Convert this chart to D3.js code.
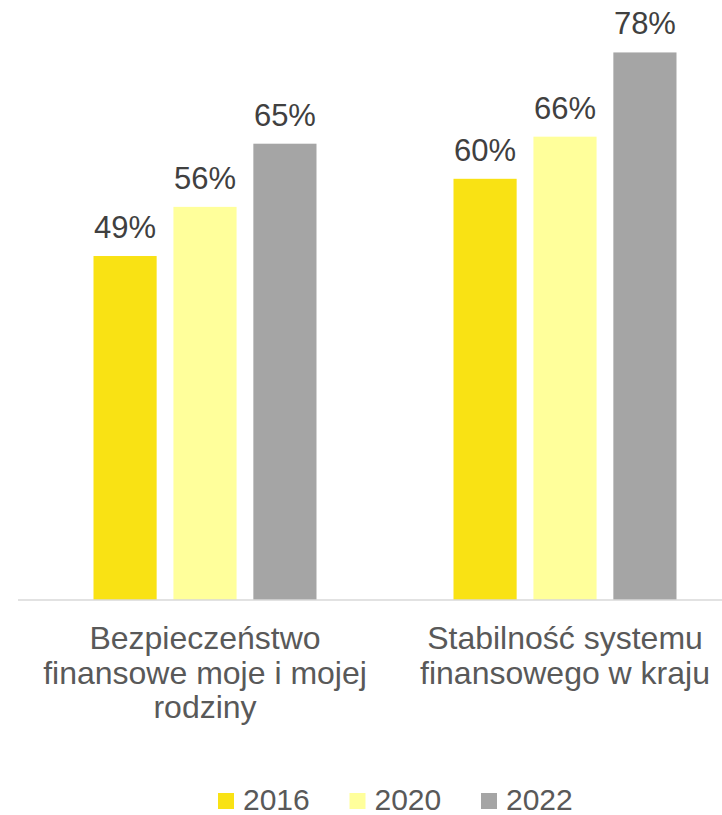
<!DOCTYPE html>
<html>
<head>
<meta charset="utf-8">
<script src="https://cdn.jsdelivr.net/npm/d3@7"></script>
<style>
  body { margin: 0; background: #fff; }
  svg { display: block; font-family: Arial, "Liberation Sans", sans-serif; }
</style>
</head>
<body>
<div class="chart"></div>
<script>
// data
const categories = ['Bezpieczeństwo finansowe moje i mojej rodziny', 'Stabilność systemu finansowego w kraju'];
const years = ['2016', '2020', '2022'];
const values2016 = [49, 60];
const values2020 = [56, 66];
const values2022 = [65, 78];
const colors = ['#F9E214', '#FFFF9B', '#A5A5A5'];

const series = [values2016, values2020, values2022];

const width = 722;
const height = 815;
const baseY = 600;

const svg = d3.select('.chart')
	.append('svg')
	.attr('width', width)
	.attr('height', height);

// scales
const x0 = d3.scaleBand()
	.domain(categories)
	.range([25, 745]);

const x1 = d3.scaleBand()
	.domain(years)
	.range([-111.5, 111.5])
	.paddingInner(0.21);

const y = d3.scaleLinear()
	.domain([0, 100])
	.range([baseY, baseY - 702]);

// bars
const groups = svg.selectAll('g.group')
	.data(categories)
	.enter()
	.append('g')
	.attr('class', 'group')
	.attr('transform', d => `translate(${x0(d) + x0.bandwidth() / 2},0)`);

groups.selectAll('rect')
	.data((d, ci) => years.map((yr, si) => ({year: yr, value: series[si][ci], color: colors[si]})))
	.enter()
	.append('rect')
	.attr('x', d => x1(d.year))
	.attr('width', x1.bandwidth())
	.attr('y', d => y(d.value))
	.attr('height', d => baseY - y(d.value))
	.attr('fill', d => d.color);

// value labels
groups.selectAll('text.value')
	.data((d, ci) => years.map((yr, si) => ({year: yr, value: series[si][ci]})))
	.enter()
	.append('text')
	.attr('class', 'value')
	.attr('x', d => x1(d.year) + x1.bandwidth() / 2)
	.attr('y', d => y(d.value) - 18)
	.attr('text-anchor', 'middle')
	.attr('font-size', '31px')
	.attr('fill', '#404040')
	.text(d => d.value + '%');

// baseline
svg.append('line')
	.attr('x1', 18)
	.attr('x2', width)
	.attr('y1', baseY)
	.attr('y2', baseY)
	.attr('stroke', '#D9D9D9')
	.attr('stroke-width', 1.5);

// category labels, wrapped
svg.selectAll('text.cat')
	.data(categories)
	.enter()
	.append('text')
	.attr('class', 'cat')
	.attr('x', d => x0(d) + x0.bandwidth() / 2)
	.attr('y', 649)
	.attr('text-anchor', 'middle')
	.attr('font-size', '32px')
	.attr('fill', '#595959')
	.each(function(d) {
		const el = d3.select(this);
		const words = d.split(' ');
		let line = [];
		let tspan = el.append('tspan').attr('x', el.attr('x')).attr('dy', 0);
		words.forEach(w => {
			line.push(w);
			tspan.text(line.join(' '));
			if (tspan.node().getComputedTextLength() > 345 && line.length > 1) {
				line.pop();
				tspan.text(line.join(' '));
				line = [w];
				tspan = el.append('tspan').attr('x', el.attr('x')).attr('dy', 34.7).text(w);
			}
		});
	});

// legend
const legend = svg.selectAll('g.legend')
	.data(years)
	.enter()
	.append('g')
	.attr('class', 'legend')
	.attr('transform', (d, i) => `translate(${218 + i * 131.5},793)`);

legend.append('rect')
	.attr('width', 16)
	.attr('height', 16)
	.attr('fill', (d, i) => colors[i]);

legend.append('text')
	.attr('x', 25)
	.attr('y', 17)
	.attr('font-size', '30px')
	.attr('fill', '#595959')
	.text(d => d);
</script>
</body>
</html>
